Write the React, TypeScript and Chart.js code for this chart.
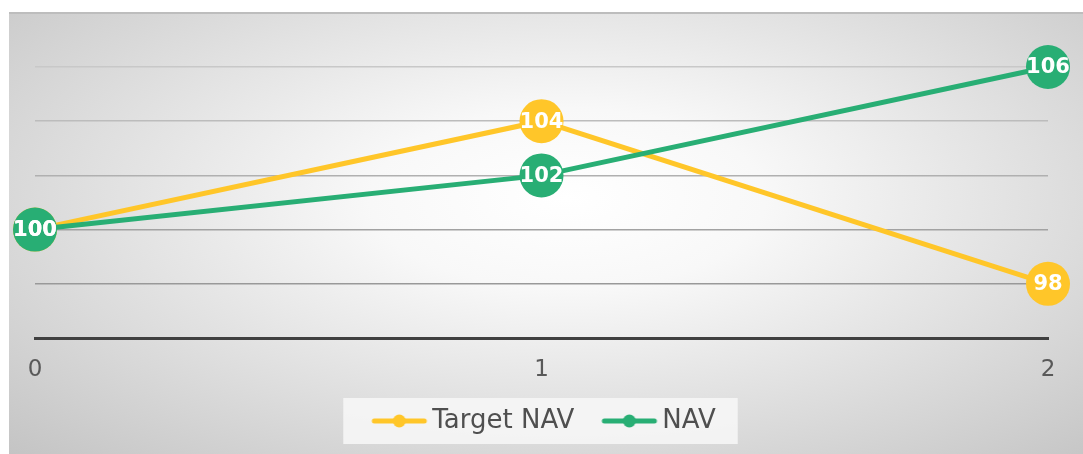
import React, { useEffect, useRef } from "react";
import { Chart, registerables } from "chart.js";

Chart.register(...registerables);

const categories = ["0", "1", "2"];
const targetNav = [100, 104, 98];
const nav = [100, 102, 106];
const seriesNames = ["Target NAV", "NAV"];
const yTicks = [96, 98, 100, 102, 104, 106];

const YELLOW = "#FFC629";
const GREEN = "#28AE74";

const BOXW = 52;
function legendIcon(color: string) {
  const c = document.createElement("canvas");
  c.width = 70;
  c.height = 14;
  const ctx = c.getContext("2d")!;
  ctx.strokeStyle = color;
  ctx.lineWidth = 5;
  ctx.lineCap = "round";
  ctx.beginPath();
  ctx.moveTo(16, 7);
  ctx.lineTo(66, 7);
  ctx.stroke();
  ctx.fillStyle = color;
  ctx.beginPath();
  ctx.arc(41, 7, 6.5, 0, Math.PI * 2);
  ctx.fill();
  return c;
}

const labelPlugin = {
  id: "pointLabels",
  afterDatasetsDraw(chart: any) {
    const ctx = chart.ctx;
    ctx.save();
    ctx.font = "bold 21px 'DejaVu Sans'";
    ctx.fillStyle = "#ffffff";
    ctx.textAlign = "center";
    ctx.textBaseline = "middle";
    chart.data.datasets.forEach((ds: any, i: number) => {
      const meta = chart.getDatasetMeta(i);
      meta.data.forEach((pt: any, j: number) => {
        ctx.fillText(String(ds.data[j]), pt.x, pt.y + 1);
      });
    });
    ctx.restore();
  },
};

const legendBgPlugin = {
  id: "legendBg",
  beforeDraw(chart: any) {
    const lg = chart.legend;
    if (!lg || !lg.legendHitBoxes || !lg.legendHitBoxes.length) return;
    const boxes = lg.legendHitBoxes;
    const minX = Math.min(...boxes.map((b: any) => b.left));
    const maxX = Math.max(...boxes.map((b: any) => b.left + b.width));
    const cy = boxes[0].top + boxes[0].height / 2;
    const ctx = chart.ctx;
    ctx.save();
    ctx.fillStyle = "rgba(245,245,245,0.92)";
    ctx.fillRect(minX - 24, cy - 23, maxX - minX + 46, 46);
    ctx.restore();
  },
};

export default function App() {
  const ref = useRef<HTMLCanvasElement>(null);
  useEffect(() => {
    const icons = [legendIcon(YELLOW), legendIcon(GREEN)];
    const chart = new Chart(ref.current!, {
      type: "line",
      data: {
        labels: categories,
        datasets: [
          {
            label: seriesNames[0],
            data: targetNav,
            borderColor: YELLOW,
            backgroundColor: YELLOW,
            borderWidth: 5,
            pointRadius: 22,
            pointHoverRadius: 22,
            pointBorderWidth: 0,
            tension: 0,
            clip: false as any,
            order: 1,
          },
          {
            label: seriesNames[1],
            data: nav,
            borderColor: GREEN,
            backgroundColor: GREEN,
            borderWidth: 5,
            pointRadius: 22,
            pointHoverRadius: 22,
            pointBorderWidth: 0,
            tension: 0,
            clip: false as any,
            order: 0,
          },
        ],
      },
      options: {
        animation: false,
        responsive: false,
        maintainAspectRatio: false,
        layout: { padding: { left: 26, right: 35, top: 53, bottom: 10 } },
        scales: {
          x: {
            type: "category",
            offset: false,
            grid: { display: false },
            border: { display: true, color: "#404040", width: 3 },
            ticks: {
              color: "#595959",
              maxRotation: 0,
              font: { family: "'DejaVu Sans'", size: 23, weight: "normal" as any },
              padding: 10,
            },
            afterFit(axis: any) {
              axis.height = 47;
            },
          },
          y: {
            min: 96,
            max: 106,
            afterBuildTicks(axis: any) {
              axis.ticks = yTicks.map((v) => ({ value: v }));
            },
            ticks: { display: false },
            border: { display: false },
            grid: {
              drawTicks: false,
              lineWidth: 1.5,
              color: (c: any) => {
                const v = c.tick && c.tick.value;
                const m: Record<number, string> = {
                  106: "#c8c8c8",
                  104: "#bcbcbc",
                  102: "#b0b0b0",
                  100: "#a2a2a2",
                  98: "#999999",
                  96: "#404040",
                };
                return m[v] || "#aaaaaa";
              },
            },
          },
        },
        plugins: {
          tooltip: { enabled: false },
          legend: {
            position: "bottom",
            labels: {
              usePointStyle: true,
              pointStyleWidth: BOXW,
              padding: 23,
              color: "#4f4f4f",
              font: { family: "'DejaVu Sans'", size: 26, weight: "normal" as any },
              generateLabels: () =>
                seriesNames.map((n, i) => ({
                  text: n,
                  pointStyle: icons[i] as any,
                  fillStyle: "transparent",
                  strokeStyle: "transparent",
                  lineWidth: 0,
                  hidden: false,
                  datasetIndex: i,
                  fontColor: "#4f4f4f",
                })),
            },
          },
        },
      },
      plugins: [labelPlugin, legendBgPlugin],
    });
    return () => chart.destroy();
  }, []);

  return (
    <div
      style={{
        position: "absolute",
        left: 9,
        top: 12,
        width: 1074,
        height: 442,
        borderTop: "2px solid #bdbdbd",
        boxSizing: "border-box",
        background:
          "radial-gradient(ellipse farthest-corner at 52% 42%, #ffffff 0%, #f8f8f8 25%, #c4c4c4 100%)",
      }}
    >
      <canvas ref={ref} width={1074} height={440} style={{ display: "block" }} />
    </div>
  );
}
